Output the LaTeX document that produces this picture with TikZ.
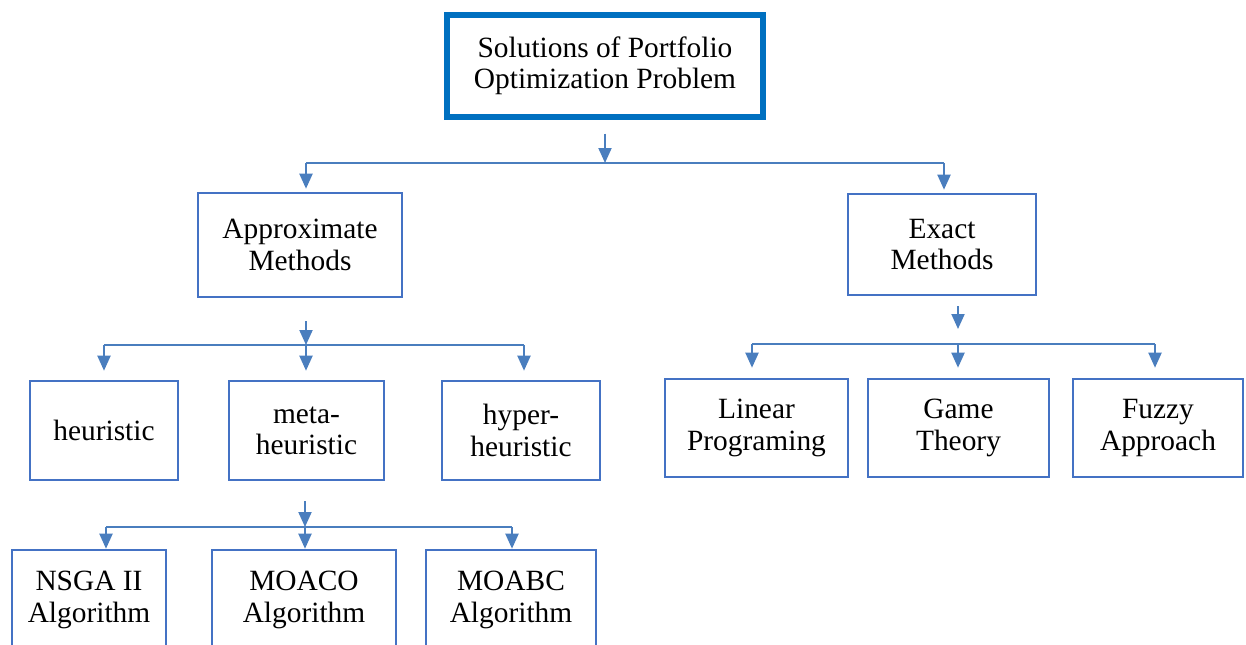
\documentclass[tikz,border=0pt]{standalone}
\usepackage{fontspec}
\setmainfont{Liberation Serif}
\usetikzlibrary{arrows.meta}
\definecolor{rootblue}{RGB}{0,112,192}
\definecolor{boxblue}{RGB}{68,114,196}
\definecolor{linkblue}{RGB}{74,126,190}

\begin{document}
\begin{tikzpicture}[x=0.5pt,y=-0.5pt]
% Define common styles
\tikzset{
    rootbox/.style={draw=rootblue, line width=2.6pt, align=center, inner sep=0pt, font=\fontsize{14.7}{15.6}\selectfont},
    methodbox/.style={draw=boxblue, line width=1.3pt, align=center, inner sep=0pt, font=\fontsize{14.7}{15.6}\selectfont},
    arrow/.style={-{Triangle[width=6.5pt,length=7.5pt]}, draw=linkblue, line width=1pt},
    bus/.style={draw=linkblue, line width=1pt}
}

\clip (0,0) rectangle (1246,644);

% Root
\node[rootbox, minimum width=158pt, minimum height=51pt] (root) at (605,66) {Solutions of Portfolio\\Optimization Problem};

% Approximate and exact methods
\node[methodbox, minimum width=102pt, minimum height=52pt] (appr) at (300,245) {Approximate\\Methods};
\node[methodbox, minimum width=94pt, minimum height=50.5pt] (exact) at (942,244.5) {Exact\\Methods};

% Approximate family
\node[methodbox, minimum width=74pt, minimum height=49.5pt] (heur) at (104,430.5) {heuristic};
\node[methodbox, minimum width=77.5pt, minimum height=49.5pt] (meta) at (306.5,430.5) {meta-\\heuristic};
\node[methodbox, minimum width=79pt, minimum height=49.5pt] (hyper) at (521,430.5) {hyper-\\heuristic};

% Exact family
\node[methodbox, minimum width=91.5pt, minimum height=49pt] (linear) at (756.5,428) {Linear\\Programing};
\node[methodbox, minimum width=90.5pt, minimum height=49pt] (game) at (958.5,428) {Game\\Theory};
\node[methodbox, minimum width=85pt, minimum height=49pt] (fuzzy) at (1158,428) {Fuzzy\\Approach};

% Meta-heuristic algorithms
\node[methodbox, minimum width=77pt, minimum height=50pt] (nsga) at (89,600) {NSGA II\\Algorithm};
\node[methodbox, minimum width=92pt, minimum height=50pt] (moaco) at (304,600) {MOACO\\Algorithm};
\node[methodbox, minimum width=85pt, minimum height=50pt] (moabc) at (511,600) {MOABC\\Algorithm};

% Bus coordinates
\coordinate (bus0) at (605,163);
\coordinate (bus0L) at (306,163);
\coordinate (bus0R) at (944,163);
\coordinate (bus1) at (306,345);
\coordinate (bus1L) at (104,345);
\coordinate (bus1R) at (524,345);
\coordinate (bus2) at (305,527);
\coordinate (bus2L) at (106,527);
\coordinate (bus2R) at (512,527);
\coordinate (bus3) at (958,344);
\coordinate (bus3L) at (752,344);
\coordinate (bus3R) at (1155,344);

% Root to methods
\draw[arrow, shorten <=7pt] (root.south) -- (bus0);
\draw[bus] (bus0L) -- (bus0R);
\draw[arrow, shorten >=1.5pt] (bus0L) -- (bus0L |- appr.north);
\draw[arrow, shorten >=1.5pt] (bus0R) -- (bus0R |- exact.north);

% Approximate methods to its family
\draw[arrow, shorten <=11.5pt] (appr.south -| bus1) -- (bus1);
\draw[bus] (bus1L) -- (bus1R);
\draw[arrow, shorten >=4.5pt] (bus1L) -- (bus1L |- heur.north);
\draw[arrow, shorten >=4.5pt] (bus1) -- (bus1 |- meta.north);
\draw[arrow, shorten >=4.5pt] (bus1R) -- (bus1R |- hyper.north);

% Meta-heuristic to algorithms
\draw[arrow, shorten <=10pt] (meta.south -| bus2) -- (bus2);
\draw[bus] (bus2L) -- (bus2R);
\draw[arrow] (bus2L) -- (bus2L |- nsga.north);
\draw[arrow] (bus2) -- (bus2 |- moaco.north);
\draw[arrow] (bus2R) -- (bus2R |- moabc.north);

% Exact methods to its family
\draw[arrow, shorten <=5pt, shorten >=7.5pt] (exact.south -| bus3) -- (bus3);
\draw[bus] (bus3L) -- (bus3R);
\draw[arrow, shorten >=5pt] (bus3L) -- (bus3L |- linear.north);
\draw[arrow, shorten >=5pt] (bus3) -- (bus3 |- game.north);
\draw[arrow, shorten >=5pt] (bus3R) -- (bus3R |- fuzzy.north);

\end{tikzpicture}
\end{document}
